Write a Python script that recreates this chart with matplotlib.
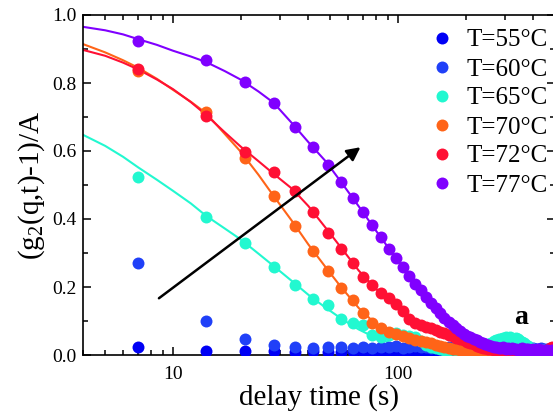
import numpy as np
import matplotlib
matplotlib.use('Agg')
import matplotlib.pyplot as plt
import matplotlib.ticker as ticker

plt.rcParams['font.family'] = ['Liberation Serif', 'DejaVu Serif']
plt.rcParams['mathtext.fontset'] = 'custom'
plt.rcParams['mathtext.rm'] = 'Liberation Serif'
plt.rcParams['mathtext.it'] = 'Liberation Serif:italic'

# delay times (s)
delay = [7, 14, 21, 28, 35, 42, 49, 56, 63, 70, 77, 84, 91, 98, 105, 112, 119, 126, 133, 140,
         147, 154, 161, 168, 175, 182, 189, 196, 203, 210, 217, 224, 231, 238, 245, 252, 259, 266, 273, 280,
         287, 294, 301, 308, 315, 322, 329, 336, 343, 350, 357, 364, 371, 378, 385, 392, 399, 406, 413, 420,
         427, 434, 441, 448, 455, 462, 469, 476, 483, 490]

labels = ['T=55°C', 'T=60°C', 'T=65°C', 'T=70°C', 'T=72°C', 'T=77°C']
colors = ['#0000f5', '#2040f8', '#22f8d0', '#ff6418', '#ff1034', '#8000ff']

g55 = [0.023, 0.013, 0.012, 0.012, 0.010, 0.011, 0.009, 0.010, 0.011, 0.009,
       0.010, 0.012, 0.009, 0.011, 0.010, 0.008, 0.011, 0.009, 0.010, 0.012,
       0.009, 0.010, 0.008, 0.011, 0.009, 0.010, 0.012, 0.008, 0.010, 0.009,
       0.011, 0.008, 0.010, 0.009, 0.011, 0.008, 0.009, 0.010, 0.008, 0.011,
       0.009, 0.008, 0.010, 0.009, 0.007, 0.010, 0.008, 0.009, 0.011, 0.008,
       0.009, 0.007, 0.010, 0.008, 0.009, 0.007, 0.008, 0.010, 0.008, 0.007,
       0.009, 0.008, 0.007, 0.009, 0.008, 0.010, 0.007, 0.008, 0.009, 0.008]
g60 = [0.270, 0.101, 0.047, 0.029, 0.024, 0.022, 0.025, 0.023, 0.021, 0.024,
       0.022, 0.025, 0.023, 0.026, 0.022, 0.024, 0.027, 0.023, 0.025, 0.022,
       0.026, 0.024, 0.021, 0.025, 0.023, 0.027, 0.022, 0.024, 0.026, 0.021,
       0.023, 0.025, 0.022, 0.024, 0.020, 0.023, 0.025, 0.021, 0.022, 0.024,
       0.020, 0.023, 0.021, 0.019, 0.022, 0.020, 0.023, 0.019, 0.021, 0.018,
       0.020, 0.022, 0.019, 0.017, 0.020, 0.018, 0.021, 0.017, 0.019, 0.016,
       0.018, 0.020, 0.017, 0.015, 0.018, 0.016, 0.019, 0.015, 0.017, 0.016]
g65 = [0.524, 0.407, 0.330, 0.258, 0.206, 0.164, 0.147, 0.106, 0.095, 0.088,
       0.060, 0.054, 0.058, 0.066, 0.060, 0.055, 0.052, 0.040, 0.030, 0.024,
       0.020, 0.018, 0.016, 0.015, 0.017, 0.014, 0.016, 0.015, 0.018, 0.020,
       0.021, 0.023, 0.025, 0.027, 0.030, 0.033, 0.036, 0.040, 0.043, 0.046,
       0.048, 0.050, 0.052, 0.049, 0.053, 0.048, 0.045, 0.049, 0.046, 0.042,
       0.038, 0.034, 0.030, 0.026, 0.022, 0.020, 0.018, 0.016, 0.015, 0.014,
       0.013, 0.012, 0.014, 0.011, 0.012, 0.010, 0.011, 0.010, 0.011, 0.010]
g70 = [0.834, 0.716, 0.578, 0.468, 0.378, 0.306, 0.248, 0.198, 0.162, 0.123,
       0.095, 0.080, 0.069, 0.062, 0.056, 0.050, 0.044, 0.040, 0.037, 0.034,
       0.030, 0.026, 0.023, 0.021, 0.019, 0.018, 0.016, 0.015, 0.014, 0.013,
       0.012, 0.013, 0.011, 0.012, 0.010, 0.011, 0.009, 0.010, 0.011, 0.009,
       0.010, 0.008, 0.009, 0.011, 0.008, 0.009, 0.010, 0.008, 0.009, 0.007,
       0.009, 0.008, 0.010, 0.007, 0.008, 0.009, 0.007, 0.008, 0.010, 0.007,
       0.008, 0.009, 0.007, 0.008, 0.006, 0.008, 0.007, 0.009, 0.007, 0.008]
g72 = [0.840, 0.703, 0.598, 0.537, 0.483, 0.421, 0.360, 0.312, 0.270, 0.228,
       0.205, 0.181, 0.167, 0.151, 0.128, 0.105, 0.095, 0.088, 0.083, 0.078,
       0.073, 0.069, 0.064, 0.059, 0.055, 0.051, 0.047, 0.043, 0.039, 0.035,
       0.031, 0.027, 0.024, 0.022, 0.020, 0.018, 0.019, 0.016, 0.017, 0.015,
       0.016, 0.014, 0.017, 0.013, 0.015, 0.012, 0.014, 0.016, 0.012, 0.013,
       0.011, 0.014, 0.012, 0.010, 0.013, 0.011, 0.012, 0.010, 0.013, 0.011,
       0.012, 0.010, 0.011, 0.013, 0.012, 0.015, 0.018, 0.022, 0.025, 0.021]
g77 = [0.924, 0.868, 0.804, 0.740, 0.671, 0.611, 0.558, 0.509, 0.463, 0.421,
       0.381, 0.348, 0.312, 0.285, 0.258, 0.232, 0.210, 0.190, 0.170, 0.152,
       0.137, 0.123, 0.110, 0.098, 0.088, 0.078, 0.070, 0.063, 0.057, 0.052,
       0.047, 0.043, 0.039, 0.036, 0.033, 0.030, 0.027, 0.025, 0.024, 0.022,
       0.021, 0.023, 0.019, 0.020, 0.018, 0.021, 0.017, 0.019, 0.016, 0.018,
       0.020, 0.015, 0.017, 0.019, 0.014, 0.016, 0.018, 0.013, 0.015, 0.017,
       0.012, 0.014, 0.016, 0.011, 0.013, 0.015, 0.010, 0.012, 0.014, 0.011]
series = [g55, g60, g65, g70, g72, g77]

# fit curves
fit_t = [4, 5, 6, 7, 8.5, 10, 12, 14, 17, 20, 24, 28, 34, 40, 48, 56, 67, 80, 95,
         112, 135, 160, 190, 224, 270, 320, 400, 500]
fit65 = [0.647, 0.615, 0.583, 0.552, 0.515, 0.483, 0.446, 0.410, 0.372, 0.340, 0.298, 0.262, 0.216, 0.177,
         0.138, 0.107, 0.075, 0.050, 0.032, 0.020, 0.010, 0.005, 0.002, 0.001, 0.0, 0.0, 0.0, 0.0]
fit70 = [0.914, 0.890, 0.867, 0.845, 0.812, 0.780, 0.745, 0.712, 0.650, 0.598, 0.530, 0.468, 0.392, 0.325,
         0.256, 0.199, 0.138, 0.090, 0.058, 0.035, 0.018, 0.009, 0.004, 0.002, 0.001, 0.0, 0.0, 0.0]
fit72 = [0.897, 0.880, 0.860, 0.840, 0.810, 0.782, 0.744, 0.707, 0.655, 0.613, 0.570, 0.533, 0.488, 0.438,
         0.372, 0.315, 0.248, 0.194, 0.150, 0.112, 0.080, 0.058, 0.040, 0.027, 0.016, 0.009, 0.004, 0.001]
fit77 = [0.965, 0.955, 0.943, 0.929, 0.912, 0.895, 0.878, 0.862, 0.835, 0.810, 0.775, 0.742, 0.680, 0.626,
         0.568, 0.508, 0.437, 0.365, 0.297, 0.235, 0.170, 0.118, 0.077, 0.048, 0.025, 0.012, 0.004, 0.001]
fits = [None, None, fit65, fit70, fit72, fit77]

fig = plt.figure(figsize=(5.53, 4.12), dpi=100)
ax = fig.add_axes([83.4 / 553, 1 - 355 / 412, (555.2 - 83.4) / 553, 340 / 412])

for lab, col, g, f in zip(labels, colors, series, fits):
    if f is not None:
        ax.plot(fit_t, f, color=col, lw=1.5, zorder=2)
    ax.plot(delay, g, 'o', color=col, ms=8.6, mec='none', label=lab, zorder=3)

ax.annotate('', xy=(69.7, 0.616), xytext=(8.47, 0.162),
            arrowprops=dict(arrowstyle='-|>', color='black', lw=1.8, mutation_scale=20), zorder=5)
ax.text(352, 0.11, 'a', fontsize=20, fontweight='bold', ha='center', va='center')

ax.set_xscale('log')
ax.set_xlim(4, 500)
ax.set_ylim(0, 1.0)
ax.xaxis.set_major_formatter(ticker.FuncFormatter(lambda v, p: '%d' % v))
ax.xaxis.set_minor_formatter(ticker.NullFormatter())
ax.yaxis.set_major_locator(ticker.MultipleLocator(0.2))
ax.yaxis.set_minor_locator(ticker.MultipleLocator(0.1))
ax.yaxis.set_major_formatter(ticker.FormatStrFormatter('%.1f'))

ax.tick_params(which='both', direction='in', top=True, right=True, labelsize=14, width=1.1)
ax.tick_params(which='major', length=6)
ax.tick_params(which='minor', length=3.5)
ax.tick_params(axis='x', pad=8)
ax.tick_params(axis='y', pad=5)
for s in ax.spines.values():
    s.set_linewidth(1.2)

ax.set_xlabel('delay time (s)', fontsize=21, labelpad=1)
ax.set_ylabel('(g$_2$(q,t)-1)/A', fontsize=21, labelpad=4)

ax.legend(loc='upper right', bbox_to_anchor=(548 / 553, 1 - 29 / 412), bbox_transform=fig.transFigure,
          frameon=False, fontsize=18, handlelength=1.0, handletextpad=0.5, labelspacing=0.26,
          borderaxespad=0, borderpad=0)

fig.savefig('out.png', dpi=100)
